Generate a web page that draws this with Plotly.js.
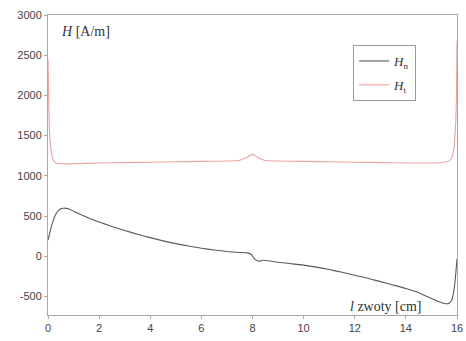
<!DOCTYPE html>
<html>
<head>
<meta charset="utf-8">
<script src="https://cdn.plot.ly/plotly-3.0.1.min.js"></script>
<style>html,body{margin:0;padding:0;background:#fff;}#chart{width:466px;height:341px;}</style>
</head>
<body>
<div id="chart"></div>
<script>
var xHn = [0, 0.1, 0.2, 0.3, 0.4, 0.5, 0.6, 0.8, 1.0, 1.5, 2, 2.5, 3, 3.5, 4, 4.5, 5, 5.5, 6, 6.5, 7, 7.5, 7.8, 7.95, 8.1, 8.25, 8.4, 8.6, 9, 9.5, 10, 10.5, 11, 11.5, 12, 12.5, 13, 13.5, 14, 14.5, 15, 15.3, 15.55, 15.7, 15.8, 15.9, 16];
var Hn = [200, 330, 440, 520, 568, 590, 598, 590, 560, 490, 425, 370, 320, 275, 232, 192, 157, 127, 100, 78, 60, 48, 42, 22, -38, -62, -50, -56, -75, -92, -110, -135, -165, -198, -235, -272, -315, -357, -400, -452, -525, -565, -590, -585, -540, -380, -30];

var xHt = [0, 0.03, 0.06, 0.1, 0.15, 0.2, 0.3, 0.5, 1, 2, 3, 4, 5, 6, 7, 7.5, 7.8, 8, 8.2, 8.5, 9, 10, 11, 12, 13, 14, 15, 15.5, 15.7, 15.8, 15.88, 15.94, 15.98, 16];
var Ht = [2450, 1900, 1550, 1380, 1260, 1200, 1160, 1150, 1150, 1160, 1165, 1170, 1175, 1180, 1185, 1195, 1230, 1270, 1230, 1190, 1185, 1180, 1175, 1170, 1165, 1160, 1160, 1170, 1190, 1230, 1350, 1600, 2000, 2680];

var xTicks = [0, 2, 4, 6, 8, 10, 12, 14, 16];
var yTicks = [-500, 0, 500, 1000, 1500, 2000, 2500, 3000];
var nameHn = '<i>H</i><sub>n</sub>';
var nameHt = '<i>H</i><sub>t</sub>';
var yTitle = '<i>H</i> [A/m]';
var xTitle = '<i>l</i> zwoty [cm]';

var traces = [
  {x: xHn, y: Hn, type: 'scatter', mode: 'lines', name: nameHn, legendgroup: 'a',
   line: {color: '#5a5a5a', width: 1.1, shape: 'spline', smoothing: 0.6}},
  {x: xHt, y: Ht, type: 'scatter', mode: 'lines', name: nameHt, legendgroup: 'b',
   line: {color: '#f0a0a0', width: 1.1, shape: 'spline', smoothing: 0.6}}
];

var axisCommon = {
  showgrid: false, zeroline: false, showline: true, mirror: true,
  linecolor: '#a8a8a8', linewidth: 1, ticks: 'outside', ticklen: 3,
  tickcolor: '#a8a8a8', tickfont: {family: 'Liberation Sans, Arial, sans-serif', size: 11, color: '#444'}
};

var layout = {
  width: 466, height: 341,
  margin: {l: 48, r: 9, t: 15, b: 26},
  paper_bgcolor: '#fff', plot_bgcolor: '#fff',
  showlegend: true,
  legend: {x: 0.746, y: 0.9, xanchor: 'left', yanchor: 'top',
    bordercolor: '#999', borderwidth: 1, bgcolor: '#fff',
    traceorder: 'grouped', tracegroupgap: 4,
    font: {family: 'Liberation Serif, Times New Roman, serif', size: 13, color: '#333'}},
  xaxis: Object.assign({}, axisCommon, {range: [0, 16], tickvals: xTicks, ticktext: xTicks.map(String)}),
  yaxis: Object.assign({}, axisCommon, {range: [-730, 3000], tickvals: yTicks, ticktext: yTicks.map(String)}),
  annotations: [
    {xref: 'paper', yref: 'paper', x: 0.028, y: 0.945, xanchor: 'left', yanchor: 'middle',
     text: yTitle, showarrow: false, font: {family: 'Liberation Serif, Times New Roman, serif', size: 14, color: '#333'}},
    {xref: 'paper', yref: 'paper', x: 0.92, y: 0.028, xanchor: 'right', yanchor: 'middle',
     text: xTitle, showarrow: false, font: {family: 'Liberation Serif, Times New Roman, serif', size: 14, color: '#333'}}
  ]
};

Plotly.newPlot('chart', traces, layout, {displayModeBar: false, staticPlot: true});
</script>
</body>
</html>
